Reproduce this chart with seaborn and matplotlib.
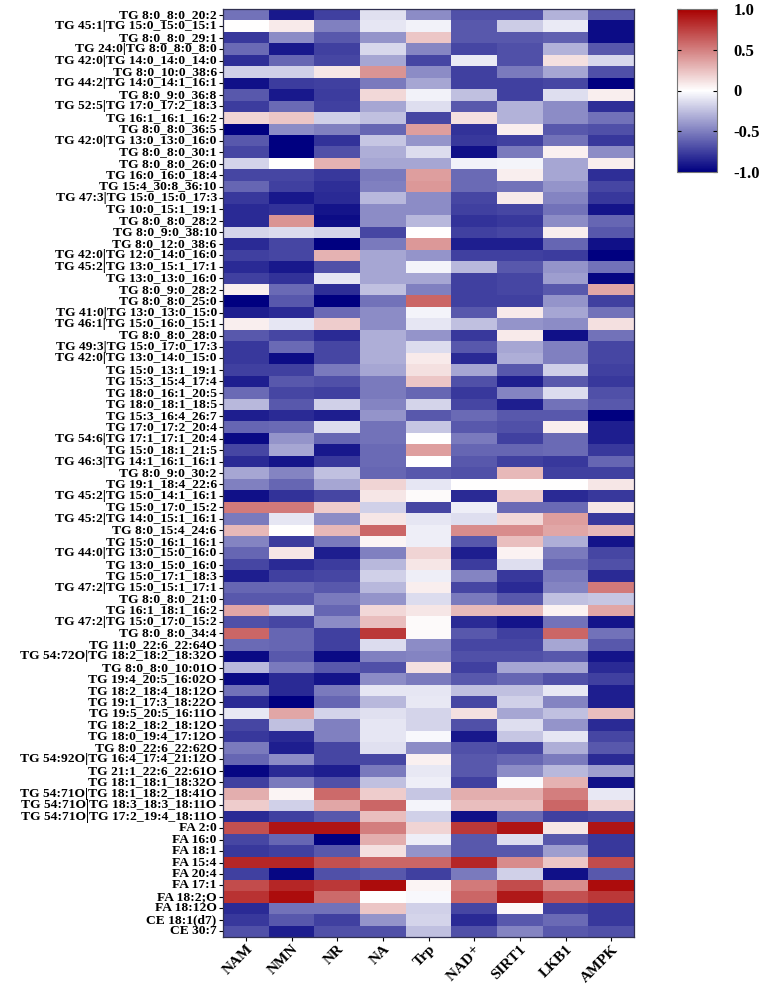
import matplotlib
matplotlib.use("Agg")
import matplotlib.pyplot as plt
import numpy as np
import pandas as pd
import seaborn as sns
from matplotlib.colors import LinearSegmentedColormap

lipids = [
    "TG 8:0_8:0_20:2", "TG 45:1|TG 15:0_15:0_15:1", "TG 8:0_8:0_29:1",
    "TG 24:0|TG 8:0_8:0_8:0", "TG 42:0|TG 14:0_14:0_14:0", "TG 8:0_10:0_38:6",
    "TG 44:2|TG 14:0_14:1_16:1", "TG 8:0_9:0_36:8", "TG 52:5|TG 17:0_17:2_18:3",
    "TG 16:1_16:1_16:2", "TG 8:0_8:0_36:5", "TG 42:0|TG 13:0_13:0_16:0",
    "TG 8:0_8:0_30:1", "TG 8:0_8:0_26:0", "TG 16:0_16:0_18:4",
    "TG 15:4_30:8_36:10", "TG 47:3|TG 15:0_15:0_17:3", "TG 10:0_15:1_19:1",
    "TG 8:0_8:0_28:2", "TG 8:0_9:0_38:10", "TG 8:0_12:0_38:6",
    "TG 42:0|TG 12:0_14:0_16:0", "TG 45:2|TG 13:0_15:1_17:1", "TG 13:0_13:0_16:0",
    "TG 8:0_9:0_28:2", "TG 8:0_8:0_25:0", "TG 41:0|TG 13:0_13:0_15:0",
    "TG 46:1|TG 15:0_16:0_15:1", "TG 8:0_8:0_28:0", "TG 49:3|TG 15:0_17:0_17:3",
    "TG 42:0|TG 13:0_14:0_15:0", "TG 15:0_13:1_19:1", "TG 15:3_15:4_17:4",
    "TG 18:0_16:1_20:5", "TG 18:0_18:1_18:5", "TG 15:3_16:4_26:7",
    "TG 17:0_17:2_20:4", "TG 54:6|TG 17:1_17:1_20:4", "TG 15:0_18:1_21:5",
    "TG 46:3|TG 14:1_16:1_16:1", "TG 8:0_9:0_30:2", "TG 19:1_18:4_22:6",
    "TG 45:2|TG 15:0_14:1_16:1", "TG 15:0_17:0_15:2", "TG 45:2|TG 14:0_15:1_16:1",
    "TG 8:0_15:4_24:6", "TG 15:0_16:1_16:1", "TG 44:0|TG 13:0_15:0_16:0",
    "TG 13:0_15:0_16:0", "TG 15:0_17:1_18:3", "TG 47:2|TG 15:0_15:1_17:1",
    "TG 8:0_8:0_21:0", "TG 16:1_18:1_16:2", "TG 47:2|TG 15:0_17:0_15:2",
    "TG 8:0_8:0_34:4", "TG 11:0_22:6_22:64O", "TG 54:72O|TG 18:2_18:2_18:32O",
    "TG 8:0_8:0_10:01O", "TG 19:4_20:5_16:02O", "TG 18:2_18:4_18:12O",
    "TG 19:1_17:3_18:22O", "TG 19:5_20:5_16:11O", "TG 18:2_18:2_18:12O",
    "TG 18:0_19:4_17:12O", "TG 8:0_22:6_22:62O", "TG 54:92O|TG 16:4_17:4_21:12O",
    "TG 21:1_22:6_22:61O", "TG 18:1_18:1_18:32O", "TG 54:71O|TG 18:1_18:2_18:41O",
    "TG 54:71O|TG 18:3_18:3_18:11O", "TG 54:71O|TG 17:2_19:4_18:11O", "FA 2:0",
    "FA 16:0", "FA 18:1", "FA 15:4", "FA 20:4", "FA 17:1", "FA 18:2;O",
    "FA 18:12O", "CE 18:1(d7)", "CE 30:7",
]

nam = [-0.55, 0.0, -0.78, -0.58, -0.82, -0.18, -0.93, -0.65, -0.76, 0.17,
       -1.0, -0.65, -0.72, -0.17, -0.72, -0.6, -0.78, -0.83, -0.83, -0.17,
       -0.83, -0.75, -0.83, -0.75, 0.07, -1.0, -0.88, 0.07, -0.65, -0.78,
       -0.78, -0.75, -0.88, -0.58, -0.28, -0.88, -0.6, -0.96, -0.72, -0.83,
       -0.35, -0.5, -0.93, 0.52, -0.52, 0.28, -0.48, -0.6, -0.72, -0.88,
       -0.6, -0.65, 0.35, -0.68, 0.6, -0.58, -0.96, -0.28, -0.96, -0.55,
       -0.83, -0.09, -0.72, -0.78, -0.52, -0.6, -0.97, -0.75, 0.32, 0.2,
       -0.83, 0.68, -0.72, -0.78, 0.85, -0.75, 0.7, 0.8, -0.83, -0.78, -0.68]
nmn = [-0.9, 0.08, -0.45, -0.9, -0.6, -0.18, -0.76, -0.9, -0.58, 0.22,
       -0.45, -1.0, -1.0, 0.0, -0.72, -0.75, -0.9, -0.8, 0.42, -0.14,
       -0.72, -0.72, -0.9, -0.8, -0.58, -0.65, -0.83, -0.1, -0.72, -0.58,
       -0.95, -0.75, -0.65, -0.72, -0.65, -0.83, -0.58, -0.42, -0.35, -0.92,
       -0.48, -0.6, -0.8, 0.52, -0.1, 0.0, -0.76, 0.1, -0.83, -0.75,
       -0.6, -0.65, -0.22, -0.72, -0.6, -0.6, -0.65, -0.52, -0.83, -0.83,
       -1.0, 0.35, -0.25, -0.83, -0.88, -0.45, -0.83, -0.52, 0.04, -0.18,
       -0.75, 0.92, -0.6, -0.75, 0.85, -0.97, 0.85, 0.95, -0.55, -0.65, -0.88]
nr = [-0.75, -0.5, -0.65, -0.75, -0.72, 0.1, -0.75, -0.76, -0.75, -0.18,
      -0.5, -0.8, -0.68, 0.3, -0.78, -0.82, -0.83, -0.92, -0.95, -0.17,
      -1.0, 0.3, -0.68, -0.1, -0.82, -1.0, -0.58, 0.2, -0.83, -0.72,
      -0.72, -0.52, -0.68, -0.75, -0.18, -0.88, -0.14, -0.6, -0.9, -0.78,
      -0.25, -0.35, -0.72, 0.2, -0.45, 0.28, -0.52, -0.88, -0.76, -0.72,
      -0.65, -0.52, -0.6, -0.45, -0.75, -0.75, -0.96, -0.65, -0.92, -0.52,
      -0.6, -0.17, -0.5, -0.5, -0.72, -0.72, -0.88, -0.68, 0.58, 0.35,
      -0.65, 0.92, -1.0, -0.65, 0.68, -0.68, 0.78, 0.58, -0.55, -0.75, -0.68]
na = [-0.12, -0.1, -0.42, -0.15, -0.35, 0.42, -0.52, 0.15, -0.35, -0.25,
      -0.6, -0.22, -0.32, -0.35, -0.52, -0.5, -0.28, -0.45, -0.45, -0.72,
      -0.52, -0.35, -0.35, -0.35, -0.25, -0.55, -0.45, -0.45, -0.32, -0.32,
      -0.32, -0.35, -0.52, -0.52, -0.48, -0.42, -0.55, -0.55, -0.58, -0.58,
      -0.6, 0.17, 0.1, -0.18, 0.1, 0.6, 0.04, -0.5, -0.28, -0.18,
      -0.28, -0.42, 0.15, 0.25, 0.78, -0.14, -0.5, -0.68, -0.45, -0.1,
      -0.28, -0.12, -0.1, -0.1, -0.12, -0.72, -0.52, -0.25, 0.2, 0.6,
      0.25, 0.5, 0.32, 0.12, 0.6, -0.65, 0.95, 0.0, 0.22, -0.42, -0.68]
trp = [-0.45, -0.05, 0.22, -0.47, -0.72, -0.45, -0.35, -0.05, -0.13, -0.72,
       0.38, -0.42, -0.14, -0.35, 0.38, 0.4, -0.45, -0.45, -0.28, 0.0,
       0.4, -0.42, -0.04, -0.35, -0.5, 0.6, -0.04, -0.1, -0.42, -0.14,
       0.08, 0.12, 0.22, -0.6, -0.17, -0.65, -0.22, 0.0, 0.38, 0.0,
       -0.65, -0.1, 0.02, -0.72, -0.1, -0.07, -0.07, 0.17, 0.1, -0.07,
       0.07, -0.14, 0.1, 0.02, 0.02, -0.45, -0.48, 0.12, -0.52, -0.1,
       -0.09, -0.17, -0.17, -0.03, -0.45, 0.06, -0.09, -0.07, -0.22, -0.04,
       -0.18, 0.17, -0.07, -0.42, 0.6, -0.75, 0.04, -0.03, -0.18, -0.17, -0.25]
nad = [-0.68, -0.65, -0.65, -0.72, -0.08, -0.75, -0.75, -0.25, -0.65, 0.12,
       -0.8, -0.78, -0.93, -0.05, -0.58, -0.58, -0.72, -0.75, -0.8, -0.75,
       -0.88, -0.75, -0.28, -0.75, -0.75, -0.75, -0.65, -0.25, -0.78, -0.65,
       -0.83, -0.35, -0.68, -0.78, -0.72, -0.58, -0.65, -0.52, -0.6, -0.65,
       -0.68, 0.0, -0.83, -0.07, -0.13, 0.45, -0.65, -0.88, -0.76, -0.48,
       -0.72, -0.52, 0.27, -0.83, -0.65, -0.72, -0.68, -0.75, -0.65, -0.25,
       -0.72, 0.12, -0.68, -0.9, -0.68, -0.65, -0.65, -0.75, 0.32, 0.25,
       -0.93, 0.78, -0.65, -0.65, 0.85, -0.52, 0.52, 0.6, -0.72, -0.83, -0.68]
sirt1 = [-0.68, -0.2, -0.65, -0.68, -0.68, -0.52, -0.75, -0.75, -0.3, -0.3,
         0.07, -0.75, -0.52, -0.04, 0.07, -0.55, 0.08, -0.72, -0.78, -0.72,
         -0.88, -0.75, -0.65, -0.72, -0.72, -0.75, 0.08, -0.42, 0.08, -0.35,
         -0.32, -0.65, -0.88, -0.48, -0.88, -0.65, -0.68, -0.75, -0.6, -0.75,
         0.28, 0.0, 0.2, -0.58, 0.15, 0.45, 0.25, 0.05, -0.13, -0.78,
         -0.83, -0.65, 0.27, -0.92, -0.75, -0.72, -0.68, -0.35, -0.6, -0.25,
         -0.18, -0.35, -0.13, -0.22, -0.72, -0.6, -0.45, -0.02, 0.32, 0.25,
         -0.58, 0.92, -0.13, -0.65, 0.45, -0.18, 0.7, 0.9, 0.03, -0.65, -0.48]
lkb1 = [-0.3, -0.08, -0.62, -0.3, 0.12, -0.35, -0.72, -0.13, -0.45, -0.45,
        -0.65, -0.55, 0.06, -0.35, -0.35, -0.42, -0.48, -0.55, -0.45, 0.07,
        -0.6, -0.76, -0.42, -0.38, -0.65, -0.42, -0.35, -0.45, -0.93, -0.5,
        -0.5, -0.18, -0.65, -0.14, -0.55, -0.65, 0.07, -0.58, -0.58, -0.78,
        -0.75, 0.0, -0.83, -0.58, 0.38, 0.35, -0.32, -0.52, -0.6, -0.52,
        -0.48, -0.25, 0.05, -0.55, 0.6, -0.35, -0.65, -0.35, -0.68, -0.09,
        -0.48, -0.25, -0.42, -0.1, -0.32, -0.52, -0.28, 0.3, 0.5, 0.6,
        -0.75, 0.1, -0.65, -0.38, 0.22, -0.93, 0.45, 0.68, -0.75, -0.58, -0.65]
ampk = [-0.65, -0.95, -0.95, -0.65, -0.15, -0.68, -1.0, 0.07, -0.82, -0.55,
        -0.68, -0.78, -0.45, 0.07, -0.82, -0.72, -0.78, -0.92, -0.6, -0.65,
        -0.93, -1.0, -0.55, -0.97, 0.35, -0.75, -0.55, 0.12, -0.55, -0.72,
        -0.72, -0.75, -0.78, -0.68, -0.65, -1.0, -0.88, -0.88, -0.78, -0.6,
        -0.75, 0.1, -0.78, 0.1, -0.78, 0.28, -0.92, -0.72, -0.68, -0.83,
        0.52, -0.22, 0.35, -0.92, -0.55, -0.65, -0.92, -0.83, -0.75, -0.88,
        -0.88, 0.25, -0.83, -0.72, -0.65, -0.83, -0.38, -0.93, -0.09, 0.17,
        -0.72, 0.92, -0.78, -0.78, 0.7, -0.65, 0.95, 0.78, -0.78, -0.78, -0.68]

columns = ["NAM", "NMN", "NR", "NA", "Trp", "NAD$^+$", "SIRT1", "LKB1", "AMPK"]

df = pd.DataFrame(
    np.column_stack([nam, nmn, nr, na, trp, nad, sirt1, lkb1, ampk]),
    index=lipids, columns=columns,
)

plt.rcParams["font.family"] = ["Liberation Serif", "DejaVu Serif"]
plt.rcParams["font.weight"] = "bold"
plt.rcParams["mathtext.fontset"] = "stix"

cmap = LinearSegmentedColormap.from_list("navy_red", ["#000080", "#ffffff", "#a80000"])

W, H = 767, 985
fig = plt.figure(figsize=(W / 100, H / 100), dpi=100)
ax = fig.add_axes([223 / W, 1 - 937 / H, 411 / W, 928 / H])
cax = fig.add_axes([677 / W, 1 - 172 / H, 40 / W, 163 / H])

sns.heatmap(df, ax=ax, cbar_ax=cax, cmap=cmap, vmin=-1, vmax=1,
            xticklabels=True, yticklabels=True)

ax.set_yticklabels(lipids, fontsize=9.7, fontweight="bold")
ax.set_xticklabels(columns, fontsize=11, fontweight="bold",
                   rotation=45, ha="right", rotation_mode="anchor")
ax.tick_params(axis="y", length=3, width=0.8, pad=1.5)
ax.tick_params(axis="x", length=3, width=0.8, pad=1)
for s in ax.spines.values():
    s.set_visible(True)
    s.set_color("#303050")
    s.set_linewidth(0.9)

cbar = ax.collections[0].colorbar
cbar.set_ticks([-1, -0.5, 0, 0.5, 1])
cbar.set_ticklabels(["-1.0", "-0.5", "0", "0.5", "1.0"], fontsize=12, fontweight="bold")
cax.tick_params(axis="y", length=3, width=0.8, pad=12, direction="in",
                left=True, right=True)
cbar.outline.set_edgecolor("#777777")
cbar.outline.set_linewidth(0.8)

fig.savefig("out.png", dpi=100)
